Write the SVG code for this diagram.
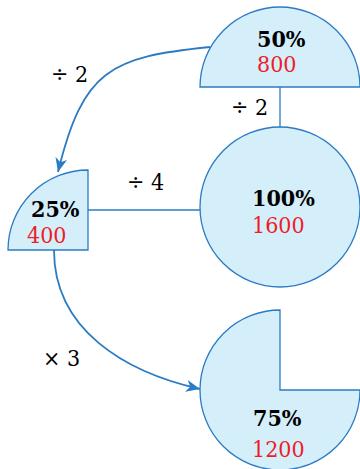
<svg xmlns="http://www.w3.org/2000/svg" width="360" height="469" viewBox="0 0 360 469">
<style>
.shape{fill:#d4eefa;stroke:#2b7bc4;stroke-width:1.3}
text{font-family:"DejaVu Serif Condensed","DejaVu Serif",serif;font-size:23px}
.pct{font-weight:bold;fill:#000}
.val{fill:#ee1d27}
.lbl{fill:#000}
.line{fill:none;stroke:#2b7bc4;stroke-width:1.3}
.arr{fill:none;stroke:#2b7bc4;stroke-width:1.8}
</style>
<defs>
<marker id="ah" markerUnits="userSpaceOnUse" markerWidth="16" markerHeight="14" refX="14" refY="6" orient="auto">
<path d="M0,0 L14,6 L0,12 L4,6 Z" fill="#2b7bc4"/>
</marker>
</defs>
<g id="connectors">
<line class="line" x1="280" y1="87" x2="280" y2="127"/>
<line class="line" x1="88" y1="210" x2="200" y2="210"/>
<path class="arr" d="M210,47 C110,57 83,70 58,172" marker-end="url(#ah)"/>
<path class="arr" d="M54,250 C54,330 125,372 200,389" marker-end="url(#ah)"/>
<text class="lbl" x="51" y="82">÷ 2</text>
<text class="lbl" x="231" y="115">÷ 2</text>
<text class="lbl" x="127" y="190">÷ 4</text>
<text class="lbl" x="43" y="366">× 3</text>
</g>
<g id="n50">
<path class="shape" d="M200,87 A80,80 0 0 1 360,87 Z"/>
<text class="pct" x="257" y="47">50%</text>
<text class="val" x="257" y="72">800</text>
</g>
<g id="n100">
<circle class="shape" cx="280" cy="207" r="80"/>
<text class="pct" x="252" y="206">100%</text>
<text class="val" x="252" y="233">1600</text>
</g>
<g id="n25">
<path class="shape" d="M88,250 L8,250 A80,80 0 0 1 88,170 Z"/>
<text class="pct" x="31" y="217">25%</text>
<text class="val" x="27" y="243">400</text>
</g>
<g id="n75">
<path class="shape" d="M280,390 L280,310 A80,80 0 1 0 360,390 Z"/>
<text class="pct" x="253" y="426">75%</text>
<text class="val" x="252" y="457">1200</text>
</g>
</svg>
